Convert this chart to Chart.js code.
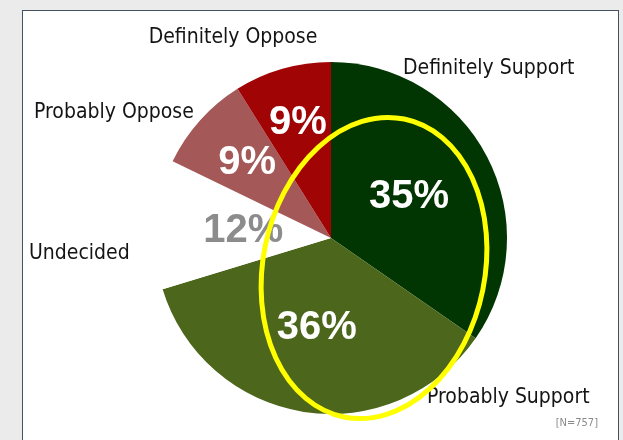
<!DOCTYPE html>
<html>
<head>
<meta charset="utf-8">
<script src="https://cdn.jsdelivr.net/npm/chart.js@4"></script>
<style>
    body { margin: 0; background: #ebebeb; width: 623px; height: 440px; overflow: hidden; position: relative; }
    #frame { position: absolute; left: 22px; top: 10px; width: 597px; height: 440px; background: #fff; border: 1px solid #44525f; box-sizing: border-box; }
    #wrap { position: absolute; left: 0; top: 0; width: 623px; height: 440px; }
</style>
</head>
<body>
<div id="frame"></div>
<div id="wrap"><canvas id="pieChart"></canvas></div>
<script>
/* =======================================================
   DATA
   ======================================================= */
const categories = ["Definitely Support", "Probably Support", "Undecided", "Probably Oppose", "Definitely Oppose"];
const shares = [35, 36, 12, 9, 9];
const sampleNote = "[N=757]";

const sliceColors = ["#013501", "#4c671b", "#ffffff", "#a45858", "#a10404"];
const pctColors = ["#ffffff", "#ffffff", "#8c8c8c", "#ffffff", "#ffffff"];
const pctRadius = [0.5, 0.52, 0.5, 0.64, 0.68];

// outer category labels, offset from pie centre (px), with alignment
const outerLabels = [
    { dx: 72, dy: -169, align: "left" },
    { dx: 96, dy: 160, align: "left" },
    { dx: -302, dy: 16, align: "left" },
    { dx: -297, dy: -125, align: "left" },
    { dx: -98, dy: -200, align: "center" }
];

/* =======================================================
   PLUGIN: labels + yellow highlight ellipse
   ======================================================= */
const pieLabels = {
    id: "pieLabels",
    afterDatasetsDraw(chart) {
        const ctx = chart.ctx;
        const arcs = chart.getDatasetMeta(0).data;
        ctx.save();
        ctx.textBaseline = "middle";

        arcs.forEach((arc, i) => {
            const p = arc.getProps(["x", "y", "startAngle", "endAngle", "outerRadius"], true);
            const mid = (p.startAngle + p.endAngle) / 2;
            const r = p.outerRadius * pctRadius[i];
            ctx.font = "bold 40px 'Liberation Sans', Arial, sans-serif";
            ctx.fillStyle = pctColors[i];
            ctx.textAlign = "center";
            ctx.fillText(shares[i] + "%", p.x + Math.cos(mid) * r, p.y + Math.sin(mid) * r);

            const o = outerLabels[i];
            ctx.font = "21px 'Liberation Sans Narrow', 'DejaVu Sans Condensed', Arial, sans-serif";
            ctx.fillStyle = "#141414";
            ctx.textAlign = o.align;
            ctx.fillText(categories[i], p.x + o.dx, p.y + o.dy);
        });

        const c = arcs[0].getProps(["x", "y", "outerRadius"], true);

        ctx.font = "11px 'Liberation Sans Narrow', 'DejaVu Sans Condensed', sans-serif";
        ctx.fillStyle = "#8a8a8a";
        ctx.textAlign = "right";
        ctx.fillText(sampleNote, 598, 423);

        // highlight ellipse drawn over the chart
        ctx.beginPath();
        ctx.ellipse(c.x + 43, c.y + 30, 111, 152, 0.2, 0, Math.PI * 2);
        ctx.strokeStyle = "#ffff00";
        ctx.lineWidth = 5;
        ctx.stroke();
        ctx.restore();
    }
};

/* =======================================================
   CHART
   ======================================================= */
new Chart(document.getElementById("pieChart"), {
    type: "pie",
    data: {
        labels: categories,
        datasets: [{
            data: shares,
            backgroundColor: sliceColors,
            borderWidth: 0
        }]
    },
    options: {
        responsive: true,
        maintainAspectRatio: false,
        animation: false,
        layout: { padding: { top: 62, bottom: 26, left: 100, right: 61 } },
        plugins: {
            legend: { display: false },
            tooltip: { enabled: false }
        }
    },
    plugins: [pieLabels]
});
</script>
</body>
</html>
